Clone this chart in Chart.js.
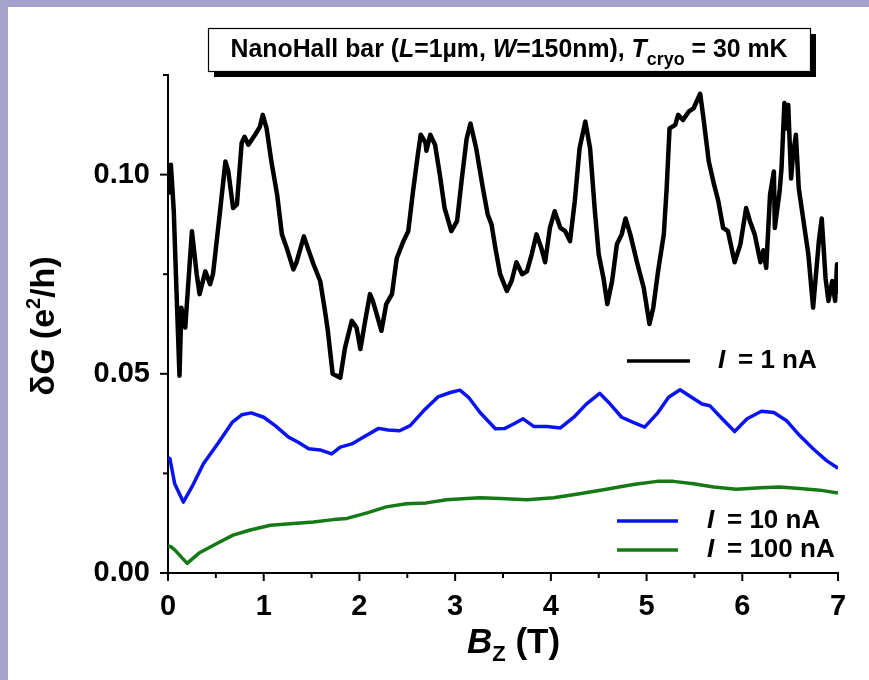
<!DOCTYPE html>
<html>
<head>
<meta charset="utf-8">
<script src="https://cdn.jsdelivr.net/npm/chart.js@4.4.0/dist/chart.umd.min.js"></script>
<style>
  html, body { margin: 0; padding: 0; background: #a5a3c9; }
  #frame { position: absolute; left: 8px; top: 7px; width: 861px; height: 673px; background: #fff; }
  #c { position: absolute; left: 0; top: 0; }
</style>
</head>
<body>
<div id="frame"></div>
<canvas id="c" width="869" height="680"></canvas>
<script>
// B_z (T) and dG (e^2/h)
const bzBlack = [0.0, 0.03, 0.06, 0.09, 0.12, 0.14, 0.18, 0.25, 0.30, 0.33, 0.39, 0.44, 0.47, 0.54, 0.60, 0.63, 0.68, 0.72,
  0.77, 0.80, 0.84, 0.91, 0.96, 0.99, 1.03, 1.08, 1.14, 1.19, 1.24, 1.31, 1.34, 1.42, 1.46, 1.52, 1.59, 1.64, 1.67, 1.72,
  1.80, 1.85, 1.92, 1.97, 2.01, 2.06, 2.11, 2.14, 2.18, 2.23, 2.28, 2.34, 2.39, 2.46, 2.51, 2.56, 2.61, 2.64, 2.69, 2.70,
  2.74, 2.79, 2.84, 2.89, 2.96, 3.02, 3.07, 3.12, 3.16, 3.22, 3.29, 3.34, 3.38, 3.42, 3.47, 3.54, 3.59, 3.64, 3.70, 3.75,
  3.80, 3.85, 3.90, 3.94, 3.99, 4.04, 4.10, 4.15, 4.20, 4.25, 4.30, 4.36, 4.41, 4.46, 4.50, 4.55, 4.59, 4.64, 4.69, 4.74,
  4.78, 4.83, 4.90, 4.97, 5.03, 5.07, 5.12, 5.18, 5.21, 5.24, 5.30, 5.33, 5.38, 5.44, 5.49, 5.56, 5.59, 5.65, 5.70, 5.75,
  5.80, 5.85, 5.92, 5.98, 6.04, 6.08, 6.13, 6.19, 6.22, 6.25, 6.29, 6.33, 6.34, 6.39, 6.41, 6.44, 6.46, 6.48, 6.51, 6.53,
  6.56, 6.59, 6.64, 6.69, 6.74, 6.80, 6.83, 6.87, 6.90, 6.94, 6.97, 6.99, 7.0];
const dgBlack = [0.095, 0.1025, 0.091, 0.070, 0.0495, 0.0666, 0.0616, 0.0858, 0.075, 0.070, 0.0757, 0.0725, 0.075, 0.090,
  0.1033, 0.1008, 0.0916, 0.0925, 0.108, 0.1095, 0.1075, 0.110, 0.112, 0.115, 0.1116, 0.1033, 0.095, 0.085, 0.0816,
  0.0762, 0.0778, 0.0845, 0.0816, 0.0775, 0.0733, 0.0658, 0.0608, 0.050, 0.049, 0.0566, 0.0633, 0.0616, 0.0562, 0.0633,
  0.070, 0.0683, 0.065, 0.0608, 0.0675, 0.070, 0.079, 0.0833, 0.0858, 0.0958, 0.105, 0.110, 0.108, 0.106, 0.110, 0.1075,
  0.100, 0.0916, 0.0858, 0.0883, 0.099, 0.109, 0.1128, 0.1066, 0.0966, 0.090, 0.0875, 0.0816, 0.075, 0.0708, 0.0733,
  0.078, 0.075, 0.0757, 0.080, 0.085, 0.0816, 0.078, 0.0866, 0.0908, 0.0866, 0.0858, 0.0833, 0.0933, 0.1066, 0.1133,
  0.1066, 0.0908, 0.080, 0.074, 0.0675, 0.0733, 0.0825, 0.085, 0.089, 0.085, 0.078, 0.0716, 0.0625, 0.0666, 0.0757,
  0.085, 0.0966, 0.1116, 0.1125, 0.115, 0.1137, 0.1158, 0.1166, 0.1203, 0.115, 0.1033, 0.098, 0.0933, 0.0866, 0.0858,
  0.078, 0.0825, 0.0916, 0.0883, 0.085, 0.078, 0.081, 0.0766, 0.095, 0.1008, 0.0866, 0.0958, 0.1016, 0.118, 0.1116,
  0.1175, 0.099, 0.105, 0.110, 0.0966, 0.0883, 0.080, 0.0666, 0.0833, 0.089, 0.074, 0.0683, 0.0733, 0.0683, 0.0775, 0.070];

const bzBlue = [0.0, 0.02, 0.07, 0.16, 0.25, 0.37, 0.53, 0.67, 0.77, 0.87, 1.00, 1.12, 1.26, 1.36, 1.47, 1.59, 1.71, 1.80,
  1.92, 2.04, 2.20, 2.30, 2.42, 2.53, 2.67, 2.82, 2.95, 3.05, 3.14, 3.26, 3.42, 3.52, 3.61, 3.71, 3.82, 3.96, 4.10, 4.24,
  4.37, 4.51, 4.62, 4.74, 4.86, 4.98, 5.11, 5.23, 5.35, 5.47, 5.58, 5.66, 5.79, 5.92, 6.05, 6.20, 6.33, 6.46, 6.60, 6.74,
  6.88, 7.0];
const dgBlue = [0.029, 0.0287, 0.0224, 0.0178, 0.0216, 0.0274, 0.0328, 0.0378, 0.0397, 0.0402, 0.0391, 0.037, 0.0341,
  0.0328, 0.0312, 0.0309, 0.0299, 0.0316, 0.0324, 0.0341, 0.0363, 0.0359, 0.0357, 0.037, 0.0407, 0.0442, 0.0453, 0.0459,
  0.0441, 0.0403, 0.0362, 0.0363, 0.0374, 0.0387, 0.0368, 0.0368, 0.0364, 0.0391, 0.0424, 0.0451, 0.0424, 0.0391, 0.0378,
  0.0366, 0.040, 0.0441, 0.046, 0.0441, 0.0424, 0.042, 0.0387, 0.0355, 0.0387, 0.0406, 0.0403, 0.0383, 0.0345, 0.0312,
  0.0282, 0.0263];

const bzGreen = [0.0, 0.03, 0.07, 0.20, 0.33, 0.51, 0.68, 0.86, 1.07, 1.31, 1.52, 1.73, 1.87, 2.08, 2.28, 2.49, 2.70, 2.91,
  3.12, 3.26, 3.47, 3.75, 4.03, 4.30, 4.58, 4.86, 5.11, 5.28, 5.49, 5.70, 5.94, 6.19, 6.39, 6.60, 6.81, 7.0];
const dgGreen = [0.0068, 0.0066, 0.0058, 0.0024, 0.0051, 0.0074, 0.0095, 0.0108, 0.012, 0.0124, 0.0128, 0.0134, 0.0137,
  0.0151, 0.0166, 0.0174, 0.0176, 0.0184, 0.0187, 0.0189, 0.0187, 0.0184, 0.0189, 0.0199, 0.021, 0.0222, 0.023, 0.023,
  0.0224, 0.0216, 0.021, 0.0214, 0.0216, 0.0212, 0.0208, 0.0201];

const seriesLabels = ['1 nA', '10 nA', '100 nA'];
const seriesColors = ['#000000', '#0a14f0', '#157a15'];
const xTickLabels = ['0', '1', '2', '3', '4', '5', '6', '7'];
const yTickLabels = ['0.00', '0.05', '0.10'];

const FONT = '"Liberation Sans", Arial, sans-serif';
const pts = (xs, ys) => xs.map((x, i) => ({ x, y: ys[i] }));

const decor = {
  id: 'decor',
  afterDraw(chart) {
    const ctx = chart.ctx;
    const xs = chart.scales.x, ys = chart.scales.y;
    const area = chart.chartArea;
    ctx.save();
    ctx.strokeStyle = '#000';
    ctx.lineWidth = 2;
    // tick marks, major longer than minor
    xs.ticks.forEach(t => {
      const px = xs.getPixelForValue(t.value);
      const len = Math.abs(t.value - Math.round(t.value)) < 1e-6 ? 8 : 5;
      ctx.beginPath(); ctx.moveTo(px, area.bottom); ctx.lineTo(px, area.bottom + len); ctx.stroke();
    });
    ys.ticks.forEach(t => {
      const py = ys.getPixelForValue(t.value);
      const r = t.value / 0.05;
      const len = Math.abs(r - Math.round(r)) < 1e-6 ? 8 : 5;
      ctx.beginPath(); ctx.moveTo(area.left, py); ctx.lineTo(area.left - len, py); ctx.stroke();
    });

    ctx.fillStyle = '#000';
    ctx.textBaseline = 'alphabetic';
    ctx.textAlign = 'left';

    // x title: B_Z (T)
    const big = 35;
    ctx.font = `italic bold ${big}px ${FONT}`;
    const wB = ctx.measureText('B').width;
    ctx.font = `bold 22px ${FONT}`;
    const wZ = ctx.measureText('Z').width;
    let x0 = 467;
    const by = 653;
    ctx.font = `italic bold ${big}px ${FONT}`; ctx.fillText('B', x0, by);
    ctx.font = `bold 22px ${FONT}`; ctx.fillText('Z', x0 + wB, by + 8);
    ctx.font = `bold ${big}px ${FONT}`; ctx.fillText(' (T)', x0 + wB + wZ, by);

    // y title: δG (e²/h)
    ctx.save();
    ctx.translate(54, (area.top + area.bottom) / 2 + 2);
    ctx.rotate(-Math.PI / 2);
    const parts = [
      ['δ', `bold 34px ${FONT}`, 0],
      ['G', `italic bold 34px ${FONT}`, 0],
      [' (e', `bold 34px ${FONT}`, 0],
      ['2', `bold 20px ${FONT}`, -14],
      ['/h)', `bold 34px ${FONT}`, 0]
    ];
    let tw = 0;
    parts.forEach(p => { ctx.font = p[1]; tw += ctx.measureText(p[0]).width; });
    let cx = -tw / 2;
    parts.forEach(p => { ctx.font = p[1]; ctx.fillText(p[0], cx, p[2]); cx += ctx.measureText(p[0]).width; });
    ctx.restore();

    // title box with shadow
    const bx = 208, bt = 28, bw = 602, bh = 43;
    ctx.fillRect(bx + 6, bt + 6, bw, bh);
    ctx.fillStyle = '#fff';
    ctx.fillRect(bx, bt, bw, bh);
    ctx.lineWidth = 1.2;
    ctx.strokeRect(bx + 0.5, bt + 0.5, bw, bh);
    ctx.fillStyle = '#000';
    const tParts = [
      ['NanoHall bar (', 'bold', 0, 25],
      ['L', 'italic bold', 0, 25],
      ['=1µm, ', 'bold', 0, 25],
      ['W', 'italic bold', 0, 25],
      ['=150nm), ', 'bold', 0, 25],
      ['T', 'italic bold', 0, 25],
      ['cryo', 'bold', 8, 18],
      [' = 30 mK', 'bold', 0, 25]
    ];
    let tw2 = 0;
    tParts.forEach(p => { ctx.font = `${p[1]} ${p[3]}px ${FONT}`; tw2 += ctx.measureText(p[0]).width; });
    const sx = Math.min(1, 557 / tw2);
    ctx.save();
    ctx.translate(bx + bw / 2 - (tw2 * sx) / 2, 57);
    ctx.scale(sx, 1);
    let tx = 0;
    tParts.forEach(p => {
      ctx.font = `${p[1]} ${p[3]}px ${FONT}`;
      ctx.fillText(p[0], tx, p[2]);
      tx += ctx.measureText(p[0]).width;
    });
    ctx.restore();

    // legend
    const leg = [
      [627, 690, 361, 718, 0],
      [617, 678, 521, 707, 1],
      [617, 678, 550, 707, 2]
    ];
    leg.forEach(([l1, l2, ly, txx, i]) => {
      ctx.strokeStyle = seriesColors[i];
      ctx.lineWidth = 3.5;
      ctx.beginPath(); ctx.moveTo(l1, ly); ctx.lineTo(l2, ly); ctx.stroke();
      ctx.fillStyle = '#000';
      ctx.textBaseline = 'middle';
      ctx.font = `italic bold 26px ${FONT}`;
      ctx.fillText('I', txx, ly);
      ctx.font = `bold 26px ${FONT}`;
      ctx.fillText('= ' + seriesLabels[i], txx + 20, ly);
    });
    ctx.restore();
  }
};

new Chart(document.getElementById('c'), {
  type: 'line',
  data: {
    datasets: [
      { label: 'I = ' + seriesLabels[0], data: pts(bzBlack, dgBlack), borderColor: seriesColors[0], borderWidth: 4.5 },
      { label: 'I = ' + seriesLabels[1], data: pts(bzBlue, dgBlue), borderColor: seriesColors[1], borderWidth: 3.5 },
      { label: 'I = ' + seriesLabels[2], data: pts(bzGreen, dgGreen), borderColor: seriesColors[2], borderWidth: 3.5 }
    ]
  },
  options: {
    responsive: false,
    animation: false,
    events: [],
    elements: { point: { radius: 0 }, line: { tension: 0, borderJoinStyle: 'round' } },
    layout: { padding: { left: 0, top: 75, right: 31, bottom: 0 } },
    plugins: { legend: { display: false }, tooltip: { enabled: false }, title: { display: false } },
    scales: {
      x: {
        type: 'linear', min: 0, max: 7,
        grid: { display: false },
        border: { display: true, color: '#000', width: 2 },
        afterFit: s => { s.height = 107; },
        ticks: {
          stepSize: 0.5, padding: 9, color: '#000', maxRotation: 0, autoSkip: false,
          font: { family: FONT, size: 29, weight: 'bold' },
          callback: v => Math.abs(v - Math.round(v)) < 1e-6 ? xTickLabels[Math.round(v)] : ''
        }
      },
      y: {
        type: 'linear', min: 0, max: 0.125,
        grid: { display: false },
        border: { display: true, color: '#000', width: 2 },
        afterFit: s => { s.width = 168; },
        ticks: {
          stepSize: 0.025, padding: 10, color: '#000', autoSkip: false,
          font: { family: FONT, size: 29, weight: 'bold' },
          callback: v => { const r = v / 0.05; return Math.abs(r - Math.round(r)) < 1e-6 ? yTickLabels[Math.round(r)] : ''; }
        }
      }
    }
  },
  plugins: [decor]
});
</script>
</body>
</html>
